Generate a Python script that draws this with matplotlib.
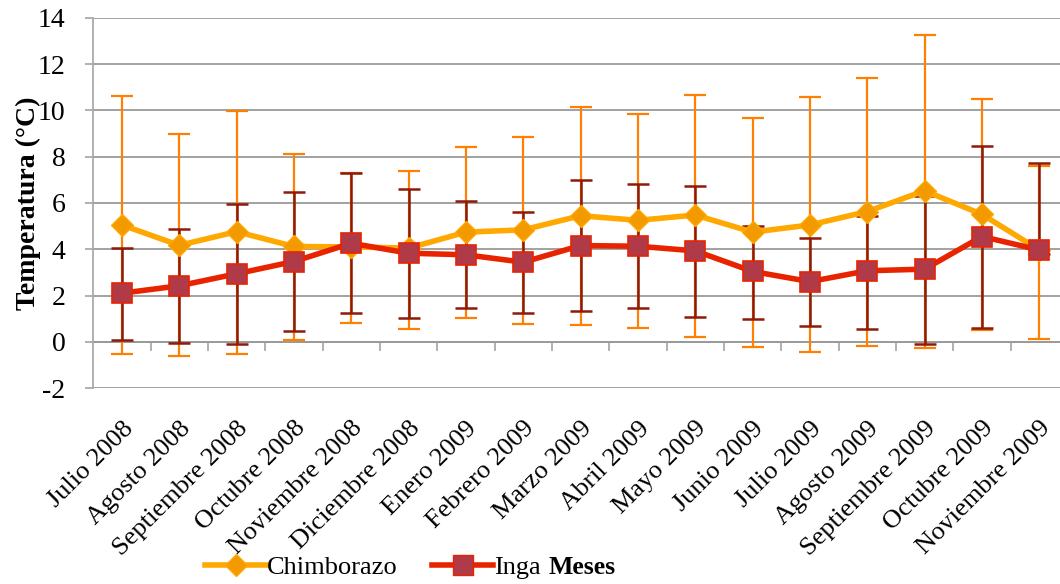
import matplotlib
matplotlib.use("Agg")
import matplotlib.pyplot as plt
from matplotlib.lines import Line2D
import numpy as np

months = ["Julio 2008", "Agosto 2008", "Septiembre 2008", "Octubre 2008",
          "Noviembre 2008", "Diciembre 2008", "Enero 2009", "Febrero 2009",
          "Marzo 2009", "Abril 2009", "Mayo 2009", "Junio 2009", "Julio 2009",
          "Agosto 2009", "Septiembre 2009", "Octubre 2009", "Noviembre 2009"]

chimborazo = [5.05, 4.17, 4.76, 4.12, 4.10, 4.05, 4.74, 4.84, 5.45, 5.25, 5.48,
              4.74, 5.05, 5.63, 6.53, 5.51, 3.97]
chim_hi = [10.63, 8.97, 9.99, 8.12, 7.31, 7.40, 8.42, 8.84, 10.13, 9.84, 10.68,
           9.69, 10.58, 11.40, 13.27, 10.48, 7.60]
chim_lo = [-0.53, -0.63, -0.52, 0.07, 0.83, 0.53, 1.02, 0.75, 0.73, 0.60, 0.22,
           -0.23, -0.45, -0.17, -0.27, 0.49, 0.14]

inga = [2.10, 2.42, 2.94, 3.47, 4.26, 3.83, 3.76, 3.44, 4.16, 4.13, 3.93,
        3.04, 2.60, 3.07, 3.14, 4.55, 3.97]
inga_hi = [4.07, 4.86, 5.97, 6.48, 7.31, 6.61, 6.09, 5.63, 7.00, 6.81, 6.74,
           5.02, 4.49, 5.45, 6.30, 8.45, 7.73]
inga_lo = [0.09, -0.04, -0.10, 0.45, 1.24, 1.04, 1.45, 1.24, 1.31, 1.47, 1.09,
           0.99, 0.70, 0.56, -0.10, 0.59, 3.80]

yticks = [-2, 0, 2, 4, 6, 8, 10, 12, 14]

serif = ["Liberation Serif", "DejaVu Serif"]
plt.rcParams["font.family"] = serif

fig = plt.figure(figsize=(10.6, 5.84), dpi=100)
ax = fig.add_axes([0.088, 0.3356, 0.9195, 0.6336])

x = np.arange(len(months))
c_line = "#FFA800"
c_mark = "#F29A00"
c_err = "#FF8000"
i_line = "#E82400"
i_mark = "#B03A48"
i_err = "#8E1A08"

chim = np.array(chimborazo)
ing = np.array(inga)
ax.errorbar(x, chim, yerr=[chim - np.array(chim_lo), np.array(chim_hi) - chim],
            fmt="none", ecolor=c_err, elinewidth=1.6, capsize=8, capthick=1.6, zorder=2)
ax.errorbar(x, ing, yerr=[ing - np.array(inga_lo), np.array(inga_hi) - ing],
            fmt="none", ecolor=i_err, elinewidth=1.8, capsize=8, capthick=1.8, zorder=3)
ax.plot(x, chim, color=c_line, lw=4, marker="D", ms=11, mfc=c_mark,
        mec=c_line, mew=1, zorder=4, label="Chimborazo")
ax.plot(x, ing, color=i_line, lw=4, marker="s", ms=14, mfc=i_mark,
        mec=i_line, mew=1.2, zorder=5, label="Inga")

ax.set_xlim(-0.5, len(months) - 0.5)
ax.set_ylim(-2, 14)
ax.set_yticks(yticks)
ax.set_yticklabels([str(v) for v in yticks], fontsize=20)
ax.yaxis.grid(True, color="#9a9a9a", lw=1.3)
ax.set_axisbelow(True)
for s in ["top", "right", "bottom"]:
    ax.spines[s].set_visible(False)
ax.spines["left"].set_color("#aaaaaa")
ax.spines["left"].set_linewidth(1.3)
ax.tick_params(axis="y", length=6, color="#aaaaaa", width=1.3, pad=14)

ax.set_xticks(x)
ax.set_xticklabels(months, rotation=45, ha="right", rotation_mode="anchor",
                   fontsize=19)
ax.tick_params(axis="x", length=0, pad=21)

# category boundary ticks on the zero line
for b in np.arange(0.5, len(months) - 0.5, 1.0):
    ax.plot([b, b], [0, -0.35], color="#aaaaaa", lw=1.3, zorder=1, clip_on=False)
ax.plot([-0.5, len(months) - 0.5], [0, 0], color="#9a9a9a", lw=1.3, zorder=1)

ax.set_ylabel("Temperatura (°C)", fontsize=20, fontweight="bold", labelpad=-2)

handles = [Line2D([0], [0], color=c_line, lw=4, marker="D", ms=11, mfc=c_mark, mec=c_line),
           Line2D([0], [0], color=i_line, lw=4, marker="s", ms=14, mfc=i_mark, mec=i_line)]
fig.legend(handles, ["Chimborazo", "Inga"], loc="center", ncol=2,
           bbox_to_anchor=(0.352, 0.028), frameon=False, fontsize=19,
           handlelength=2.3, handletextpad=0.05, columnspacing=1.3,
           borderpad=0, borderaxespad=0)
fig.text(0.517, 0.028, "Meses", fontsize=18.5, fontweight="bold", va="center", ha="left")

fig.savefig("out.png", dpi=100)
